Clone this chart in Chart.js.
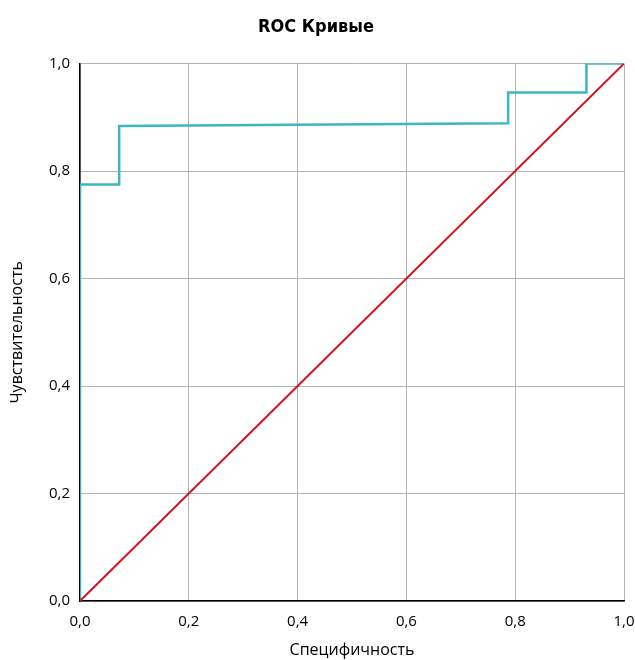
<!DOCTYPE html>
<html><head><meta charset="utf-8">
<script src="https://cdn.jsdelivr.net/npm/chart.js@4"></script>
<style>html,body{margin:0;padding:0;background:#fff}#w{width:635px;height:660px}</style>
</head><body><div id="w"><canvas id="c" width="635" height="660"></canvas></div>
<script>
const rocX = [0, 0, 0.072, 0.072, 0.787, 0.787, 0.931, 0.931, 1];
const rocY = [0, 0.775, 0.775, 0.884, 0.889, 0.946, 0.946, 1, 1];
const diagX = [0, 1];
const diagY = [0, 1];
const tickValues = [0, 0.2, 0.4, 0.6, 0.8, 1.0];
const titleText = 'ROC Кривые';
const xTitle = 'Специфичность';
const yTitle = 'Чувствительность';

const fmt = v => Number(v).toFixed(1).replace('.', ',');
const pts = (xs, ys) => xs.map((x, i) => ({x: x, y: ys[i]}));

new Chart(document.getElementById('c'), {
  type: 'scatter',
  data: {datasets: [
    {data: pts(diagX, diagY), showLine: true, borderColor: '#d0161f', borderWidth: 2, pointRadius: 0, fill: false},
    {data: pts(rocX, rocY), showLine: true, borderColor: '#3cb6c3', borderWidth: 2.5, pointRadius: 0, fill: false}
  ]},
  options: {
    responsive: false, animation: false,
    layout: {padding: {left: 8, right: 11, top: 0, bottom: 0}},
    plugins: {
      legend: {display: false}, tooltip: {enabled: false},
      title: {display: true, text: titleText, color: '#000',
        font: {family: "'DejaVu Sans Condensed','Open Sans',sans-serif", size: 18, weight: 'bold'},
        padding: {top: 17, bottom: 25}}
    },
    scales: {
      x: {type: 'linear', min: 0, max: 1,
        afterBuildTicks: s => { s.ticks = tickValues.map(v => ({value: v})); },
        ticks: {callback: fmt, color: '#000', font: {family: "'Open Sans',sans-serif", size: 15}, padding: 12, maxRotation: 0},
        grid: {color: '#b4b4b8', lineWidth: 1, drawTicks: false},
        border: {color: '#000', width: 1.5},
        title: {display: true, text: xTitle, color: '#000', font: {family: "'Open Sans',sans-serif", size: 16}, padding: {top: 4, bottom: 0}},
        afterFit: s => { s.height = 59; s.paddingLeft = 0; s.paddingRight = 0; }
      },
      y: {type: 'linear', min: 0, max: 1,
        afterBuildTicks: s => { s.ticks = tickValues.map(v => ({value: v})); },
        ticks: {callback: fmt, color: '#000', font: {family: "'Open Sans',sans-serif", size: 15}, padding: 10},
        grid: {color: '#b4b4b8', lineWidth: 1, drawTicks: false},
        border: {color: '#000', width: 1.5},
        title: {display: true, text: yTitle, color: '#000', font: {family: "'Open Sans',sans-serif", size: 16}, padding: {top: 0, bottom: 8}},
        afterFit: s => { s.width = 72; s.paddingTop = 0; s.paddingBottom = 0; }
      }
    }
  }
});
</script></body></html>
